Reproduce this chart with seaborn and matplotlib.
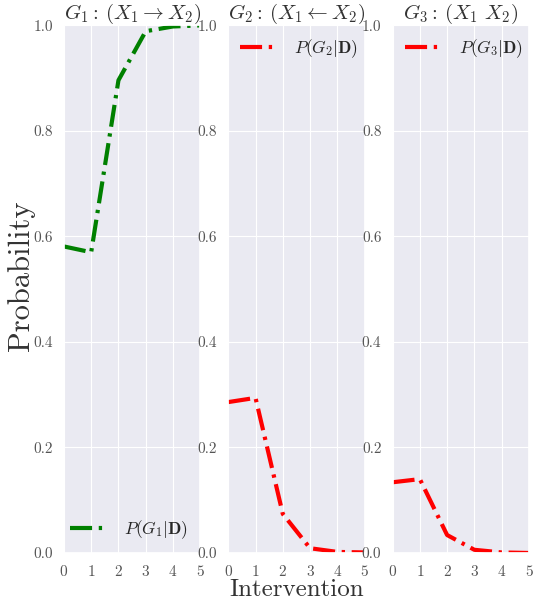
import matplotlib
matplotlib.use("Agg")
import matplotlib.pyplot as plt
import seaborn as sns
import pandas as pd

interventions = [0, 1, 2, 3, 4, 5]
p_g1 = [0.581, 0.570, 0.896, 0.989, 0.998, 1.0]
p_g2 = [0.286, 0.294, 0.074, 0.009, 0.002, 0.001]
p_g3 = [0.134, 0.140, 0.034, 0.006, 0.001, 0.000]

titles = [r"$G_1:\,(X_1 \rightarrow X_2)$",
          r"$G_2:\,(X_1 \leftarrow X_2)$",
          r"$G_3:\,(X_1\ X_2)$"]
labels = [r"$P(G_1|\mathbf{D})$", r"$P(G_2|\mathbf{D})$", r"$P(G_3|\mathbf{D})$"]
colors = ["green", "red", "red"]
legend_locs = ["lower right", "upper left", "upper left"]

sns.set_theme(style="darkgrid", rc={"grid.linewidth": 0.8})
plt.rcParams["font.family"] = "cmr10"
plt.rcParams["mathtext.fontset"] = "cm"
plt.rcParams["axes.formatter.use_mathtext"] = True

fig, axes = plt.subplots(1, 3, figsize=(5.37, 6.05), dpi=100)
fig.subplots_adjust(left=0.119, right=0.985, top=0.958, bottom=0.086, wspace=0.205)

dashdot = (0, (5.3, 1.6, 0.8, 1.6))

for ax, vals, title, lab, col, loc in zip(axes, [p_g1, p_g2, p_g3], titles, labels,
                                          colors, legend_locs):
    df = pd.DataFrame({"Intervention": interventions, "p": vals})
    sns.lineplot(data=df, x="Intervention", y="p", ax=ax, color=col,
                 linewidth=3.0, label=lab)
    for line in ax.get_lines():
        line.set_linestyle(dashdot)
    ax.set_xlim(0, 5)
    ax.set_ylim(0, 1)
    ax.set_xticks(interventions)
    ax.set_yticks([0.0, 0.2, 0.4, 0.6, 0.8, 1.0])
    ax.set_yticklabels([f"{v:.1f}" for v in [0.0, 0.2, 0.4, 0.6, 0.8, 1.0]])
    ax.tick_params(axis="both", labelsize=11, labelcolor="#555555", pad=2)
    ax.set_title(title, fontsize=15, pad=5, color="#333333")
    ax.set_xlabel("")
    ax.set_ylabel("")
    leg = ax.legend(loc=loc, frameon=False, fontsize=12.5, handlelength=1.9,
                    handletextpad=1.2, borderaxespad=0.3)
    for h in leg.get_lines():
        h.set_linestyle(dashdot)

axes[0].set_ylabel("Probability", fontsize=22, color="#333333")
axes[0].yaxis.set_label_coords(-0.212, 0.525)
axes[1].set_xlabel("Intervention", fontsize=18, color="#333333")
axes[1].xaxis.set_label_coords(0.5, -0.05)

fig.savefig("out.png", dpi=100)
